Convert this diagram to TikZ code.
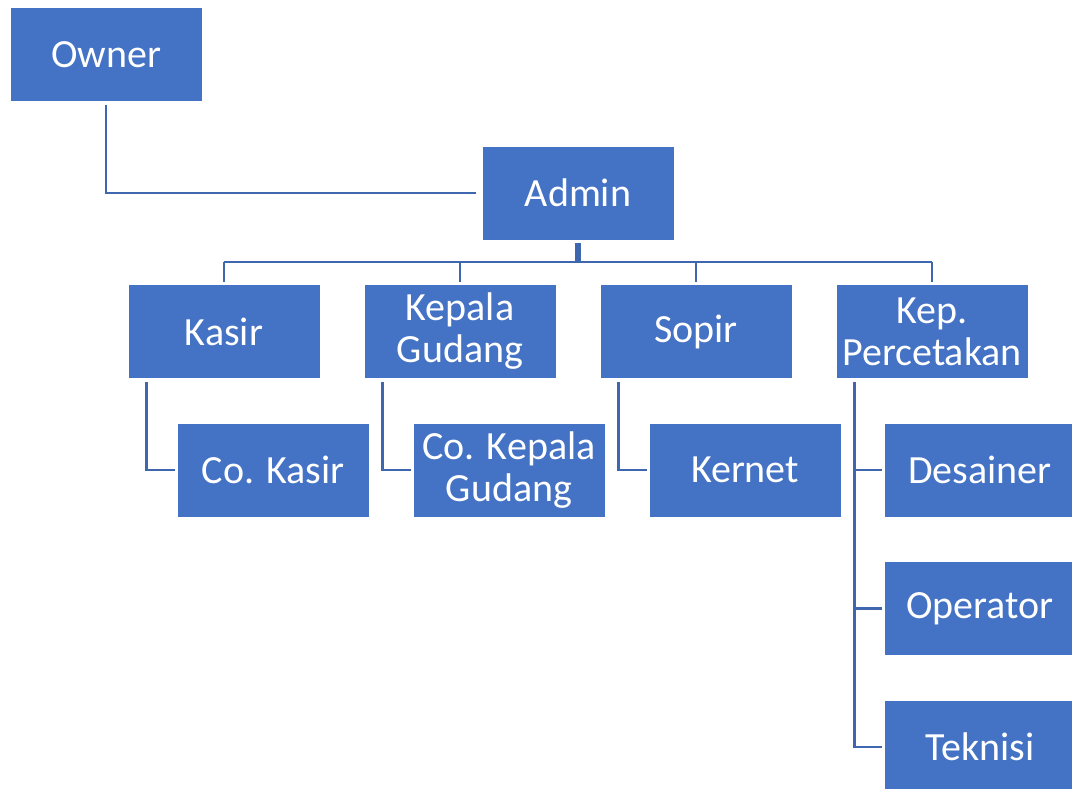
\documentclass[tikz,border=0pt]{standalone}
\usepackage{fontspec}
\setmainfont{Carlito}
\definecolor{boxblue}{HTML}{4472C4}
\definecolor{lineblue}{HTML}{3F67B0}
\begin{document}
\begin{tikzpicture}[x=1pt,y=-1pt,
  box/.style={rectangle, fill=boxblue, draw=white, line width=0.75pt,
    minimum width=192pt, minimum height=94pt, inner sep=0pt,
    text=white, align=center, font=\fontsize{40}{42}\selectfont},
  conn/.style={draw=lineblue, line width=2.5pt}]
\useasboundingbox (0,0) rectangle (1072,789);
\node[box] (owner) at (106,54.5) {Owner};
\node[box] (admin) at (578,193) {Admin};
\node[box] (kasir) at (224,331.5) {Kasir};
\node[box] (kg) at (460,331.5) {Kepala\\Gudang};
\node[box] (sopir) at (696,331.5) {Sopir};
\node[box] (kp) at (932,331.5) {Kep.\\Percetakan};
\node[box] (cokasir) at (273,470) {Co. Kasir};
\node[box] (cokg) at (509,470) {Co. Kepala\\Gudang};
\node[box] (kernet) at (745,470) {Kernet};
\node[box] (desainer) at (980,470) {Desainer};
\node[box] (operator) at (980,608.5) {Operator};
\node[box] (teknisi) at (980,747) {Teknisi};
% owner to admin
\draw[conn] ([yshift=-3pt]owner.south) |- ([xshift=-6pt]admin.west);
% admin to children
\coordinate (bus) at (578,262);
\draw[draw=lineblue, line width=6pt] ([yshift=-3pt]admin.south) -- (admin.south |- bus);
\draw[conn] (kasir.north |- bus) -- (kp.north |- bus);
\foreach \c in {kasir,kg,sopir,kp}
  \draw[conn] (\c.north |- bus) -- ([yshift=2.5pt]\c.north);
% assistants
\draw[conn] ([xshift=19pt,yshift=-3pt]kasir.south west) |- ([xshift=-2pt]cokasir.west);
\draw[conn] ([xshift=19pt,yshift=-3pt]kg.south west) |- ([xshift=-2pt]cokg.west);
\draw[conn] ([xshift=19pt,yshift=-3pt]sopir.south west) |- ([xshift=-2pt]kernet.west);
\coordinate (kpx) at ([xshift=19pt,yshift=-3pt]kp.south west);
\draw[conn] (kpx) |- ([xshift=-2pt]teknisi.west);
\draw[conn] (kpx |- desainer.west) -- ([xshift=-2pt]desainer.west);
\draw[conn] (kpx |- operator.west) -- ([xshift=-2pt]operator.west);
\end{tikzpicture}
\end{document}
